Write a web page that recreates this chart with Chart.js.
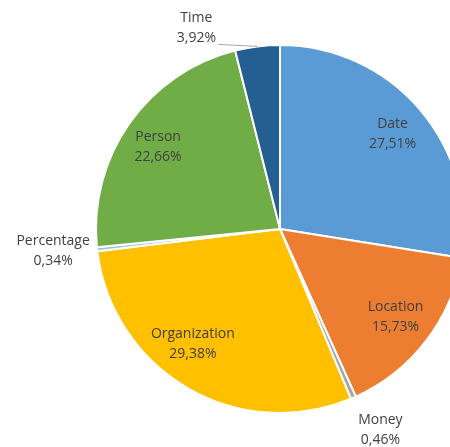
<!DOCTYPE html>
<html>
<head>
<meta charset="utf-8">
<script src="https://cdn.jsdelivr.net/npm/chart.js@4"></script>
<style>
  html, body { margin: 0; padding: 0; background: #fff; overflow: hidden; }
  #wrap { width: 500px; height: 447px; }
</style>
</head>
<body>
<div id="wrap"><canvas id="pie"></canvas></div>
<script>
// Datos del gráfico
const categories = ['Date', 'Location', 'Money', 'Organization', 'Percentage', 'Person', 'Time'];
const shares = [27.51, 15.73, 0.46, 29.38, 0.34, 22.66, 3.92];
const sliceColors = ['#5B9BD5', '#ED7D31', '#A5A5A5', '#FFC000', '#9DC3E6', '#70AD47', '#255E91'];

// Desplazamiento de cada etiqueta (en px) respecto a su posición base
const outside = {
  Money: { dx: 27, dy: 32 },
  Percentage: { dx: -44, dy: 2 },
  Time: { dx: -61, dy: -18, leader: true },
};
const nudge = {
  Organization: { dx: -14, dy: -11 },
  Date: { dx: 2, dy: -1 },
  Person: { dx: -3, dy: 2 },
};

const fmt = (v) => v.toFixed(2).replace('.', ',') + '%';

const labelPlugin = {
  id: 'sliceLabels',
  afterDatasetsDraw(chart) {
    const ctx = chart.ctx;
    const meta = chart.getDatasetMeta(0);
    ctx.save();
    ctx.font = '14px "Open Sans", sans-serif';
    ctx.fillStyle = '#404040';
    ctx.textAlign = 'center';
    ctx.textBaseline = 'middle';
    meta.data.forEach((arc, i) => {
      const name = categories[i];
      const p = arc.getProps(['x', 'y', 'startAngle', 'endAngle', 'outerRadius']);
      const mid = (p.startAngle + p.endAngle) / 2;
      let x, y;
      const o = outside[name];
      if (o) {
        const ex = p.x + Math.cos(mid) * p.outerRadius;
        const ey = p.y + Math.sin(mid) * p.outerRadius;
        x = ex + o.dx;
        y = ey + o.dy;
        if (o.leader) {
          ctx.strokeStyle = '#A6A6A6';
          ctx.lineWidth = 1;
          ctx.beginPath();
          ctx.moveTo(x + 22, y + 16);
          ctx.lineTo(ex, ey);
          ctx.stroke();
        }
      } else {
        const r = p.outerRadius * 0.79;
        const n = nudge[name] || { dx: 0, dy: 0 };
        x = p.x + Math.cos(mid) * r + n.dx;
        y = p.y + Math.sin(mid) * r + n.dy;
      }
      ctx.fillText(name, x, y - 10);
      ctx.fillText(fmt(shares[i]), x, y + 10);
    });
    ctx.restore();
  },
};

new Chart(document.getElementById('pie'), {
  type: 'pie',
  data: {
    labels: categories,
    datasets: [
      {
        data: shares,
        backgroundColor: sliceColors,
        borderColor: '#ffffff',
        borderWidth: 2,
      },
    ],
  },
  options: {
    responsive: true,
    maintainAspectRatio: false,
    animation: false,
    layout: { padding: { left: 95, right: 35, top: 42, bottom: 31 } },
    plugins: {
      legend: { display: false },
      tooltip: { enabled: false },
    },
  },
  plugins: [labelPlugin],
});
</script>
</body>
</html>
